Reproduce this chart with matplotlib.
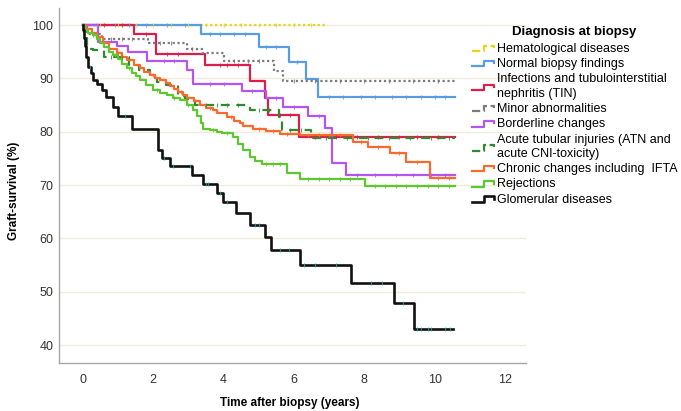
import numpy as np
import matplotlib
matplotlib.use("Agg")
import matplotlib.pyplot as plt
from matplotlib.lines import Line2D
from matplotlib.legend_handler import HandlerBase

plt.rcParams['font.family'] = ['Liberation Sans', 'DejaVu Sans']

# ---------------- data ----------------
groups = [
    "Hematological diseases",
    "Normal biopsy findings",
    "Infections and tubulointerstitial\nnephritis (TIN)",
    "Minor abnormalities",
    "Borderline changes",
    "Acute tubular injuries (ATN and\nacute CNI-toxicity)",
    "Chronic changes including  IFTA",
    "Rejections",
    "Glomerular diseases",
]

hem_t = []
hem_s = []
hem_end = 6.94
hem_c = [0.5, 1.0, 1.5, 2.0, 2.5, 3.0, 3.5, 4.0, 4.5, 5.0, 5.5, 6.0, 6.5]

nor_t = [3.37, 5.01, 5.87, 6.34, 6.69]
nor_s = [98.3, 95.9, 93.0, 89.8, 86.6]
nor_end = 10.58
nor_c = [0.4, 0.9, 1.3, 1.8, 2.4, 2.9, 3.6, 3.9, 4.3, 4.6, 5.2, 5.5, 6.1, 7.0, 7.4, 7.9, 8.3, 8.8, 9.2, 9.6, 10.0, 10.3]

inf_t = [1.45, 2.09, 3.48, 4.75, 5.18, 5.25, 6.15]
inf_s = [98.3, 94.6, 92.5, 89.5, 86.3, 83.1, 79.1]
inf_end = 10.58
inf_c = [0.6, 1.1, 1.8, 2.4, 2.7, 3.9, 4.1, 4.4, 5.6, 5.9, 6.6, 7.2, 7.8, 8.4, 9.0, 9.5, 10.1]

min_t = [0.12, 0.55, 1.85, 2.95, 3.4, 4.0, 5.43, 5.68]
min_s = [98.3, 97.3, 96.6, 95.6, 94.7, 93.3, 91.3, 89.5]
min_end = 10.58
min_c = [0.8, 1.1, 1.4, 2.2, 2.5, 3.1, 4.3, 4.7, 5.0, 6.0, 6.6, 7.3, 8.0, 8.7, 9.4, 10.1]

bor_t = [0.44, 0.96, 1.29, 1.83, 2.95, 3.14, 4.52, 5.22, 5.7, 6.41, 6.88, 7.07, 7.48]
bor_s = [96.9, 96.1, 95.0, 93.3, 91.6, 89.0, 87.6, 86.3, 84.7, 83.0, 80.8, 74.2, 71.9]
bor_end = 10.58
bor_c = [2.3, 2.6, 3.6, 4.0, 4.8, 5.5, 6.0, 6.7, 7.8, 8.3, 8.9, 9.4, 9.9, 10.3]

atn_t = [0.03, 0.12, 0.3, 0.6, 1.3, 1.6, 1.9, 2.1, 2.35, 2.7, 2.9, 3.2, 4.75, 5.58, 5.65, 6.5]
atn_s = [97.5, 95.6, 95.3, 94.1, 92.5, 91.6, 90.0, 89.4, 88.8, 86.7, 86.1, 85.1, 84.1, 82.8, 80.3, 78.8]
atn_end = 10.58
atn_c = [0.8, 1.1, 3.5, 3.8, 4.1, 4.4, 5.0, 5.3, 5.9, 6.2, 6.9, 7.5, 8.1, 8.7, 9.3, 9.9, 10.4]

chr_t = [0.1, 0.25, 0.4, 0.58, 0.75, 0.96, 1.1, 1.24, 1.45, 1.62, 1.75, 1.9, 2.05, 2.19,
         2.35, 2.47, 2.6, 2.71, 2.85, 2.95, 3.15, 3.33, 3.5, 3.7, 3.8, 4.09, 4.3, 4.46,
         4.56, 4.84, 5.22, 5.6, 6.17, 7.69, 8.11, 8.73, 9.2, 9.87]
chr_s = [99.3, 98.6, 97.8, 96.6, 95.6, 94.7, 94.0, 93.4, 92.6, 91.9, 91.2, 90.6, 90.1, 89.7,
         89.1, 88.6, 88.0, 87.5, 86.9, 86.3, 85.7, 85.0, 84.5, 84.1, 83.5, 82.8, 82.1, 81.6,
         81.0, 80.6, 80.2, 79.6, 79.4, 78.1, 77.2, 76.0, 74.4, 71.3]
chr_end = 10.58
chr_c = [1.0, 2.0, 2.8, 3.6, 4.2, 5.0, 5.4, 5.8, 6.4, 6.7, 7.0, 7.3, 7.9, 8.4, 9.0, 9.5, 10.1, 10.4]

rej_t = [0.02, 0.06, 0.15, 0.29, 0.4, 0.48, 0.6, 0.75, 0.86, 1.0, 1.12, 1.24, 1.4, 1.5,
         1.62, 1.8, 2.0, 2.2, 2.38, 2.55, 2.76, 2.95, 3.14, 3.25, 3.35, 3.42, 3.6, 3.8,
         3.95, 4.27, 4.4, 4.56, 4.75, 4.9, 5.08, 5.79, 6.17, 8.02]
rej_s = [99.6, 99.1, 98.6, 98.1, 97.3, 96.6, 95.8, 95.0, 94.4, 93.6, 92.7, 91.9, 91.0, 90.4,
         89.7, 88.8, 87.8, 87.3, 86.9, 86.4, 85.9, 85.0, 84.1, 82.9, 81.7, 80.6, 80.3, 80.0,
         79.7, 79.0, 77.8, 76.6, 75.3, 74.6, 73.9, 72.2, 71.1, 69.8]
rej_end = 10.58
rej_c = [0.3, 0.9, 1.3, 2.1, 2.6, 3.0, 3.7, 4.1, 5.2, 5.4, 5.6, 6.4, 6.7, 7.0, 7.3, 7.6,
         8.3, 8.6, 8.9, 9.2, 9.5, 9.8, 10.1, 10.4]

glo_t = [0.01, 0.03, 0.06, 0.1, 0.15, 0.22, 0.29, 0.4, 0.53, 0.67, 0.86, 1.0, 1.41, 2.14,
         2.24, 2.47, 3.09, 3.42, 3.8, 3.99, 4.35, 4.75, 5.17, 5.36, 6.17, 7.62, 8.85, 9.41]
glo_s = [99.0, 97.6, 96.0, 94.1, 92.2, 91.0, 89.7, 89.0, 87.8, 86.6, 84.7, 83.0, 80.5, 76.6,
         75.0, 73.5, 71.9, 70.3, 68.6, 66.8, 64.7, 62.5, 60.2, 57.8, 55.0, 51.6, 47.9, 43.1]
glo_end = 10.53
glo_c = [0.2, 1.2, 2.3, 2.55, 3.05, 3.5, 3.55, 3.9, 4.1, 4.9, 5.0, 5.6, 5.85, 6.3, 6.6,
         7.2, 8.2, 8.5, 9.1, 9.5, 9.6, 9.8, 9.9, 10.3, 10.45]

times = [hem_t, nor_t, inf_t, min_t, bor_t, atn_t, chr_t, rej_t, glo_t]
survs = [hem_s, nor_s, inf_s, min_s, bor_s, atn_s, chr_s, rej_s, glo_s]
ends = [hem_end, nor_end, inf_end, min_end, bor_end, atn_end, chr_end, rej_end, glo_end]
cens = [hem_c, nor_c, inf_c, min_c, bor_c, atn_c, chr_c, rej_c, glo_c]

colors = ["#e8d51a", "#5a9be6", "#dc1e4c", "#7a7a7a", "#b355ee",
          "#2e8a2e", "#fa6a2c", "#5cc72f", "#111111"]
cens_colors = ["#e8d51a", "#5a9be6", "#dc1e4c", "#7a7a7a", "#b355ee",
               "#2e8a2e", "#fa6a2c", "#5cc72f", "#2aa6a0"]
styles = [(0, (1, 1.2)), "-", "-", (0, (1, 1.2)), "-", (0, (4, 3)), "-", "-", "-"]
widths = [1.6, 1.6, 1.6, 1.6, 1.6, 1.6, 1.6, 1.6, 1.9]

xticks = [0, 2, 4, 6, 8, 10, 12]
yticks = [40, 50, 60, 70, 80, 90, 100]


class StepHandler(HandlerBase):
    def create_artists(self, legend, orig_handle, xdescent, ydescent, width, height,
                       fontsize, trans):
        xs = np.array([0.0, 0.55, 0.55, 1.0, 1.0]) * width - xdescent
        ys = np.array([0.1, 0.1, 0.75, 0.75, 0.45]) * height - ydescent
        ln = Line2D(xs, ys, color=orig_handle.get_color(),
                    linestyle=orig_handle.get_linestyle(),
                    linewidth=orig_handle.get_linewidth())
        ln.set_transform(trans)
        return [ln]


fig = plt.figure(figsize=(6.81, 4.11), dpi=100)
ax = fig.add_axes([59 / 681, 1 - 363.3 / 411, (526 - 59) / 681, (363.3 - 8) / 411])

ax.set_xlim(-0.68, 12.6)
ax.set_ylim(36.6, 103.2)

for yv in yticks:
    ax.axhline(yv, color="#f1ebda", lw=1.0, zorder=0)

handles = []
for i in range(len(groups)):
    t = np.array([0.0] + list(times[i]) + [ends[i]])
    s = np.array([100.0] + list(survs[i]) + [survs[i][-1] if survs[i] else 100.0])
    ln, = ax.step(t, s, where="post", color=colors[i], linestyle=styles[i],
                  linewidth=widths[i], zorder=3 + i * 0.1)
    handles.append(ln)
    c = np.array(cens[i])
    idx = np.searchsorted(t, c, side="right") - 1
    ax.plot(c, s[idx], linestyle="none", marker="|", markersize=3.5,
            markeredgewidth=0.8, color=cens_colors[i], alpha=0.8, zorder=4 + i * 0.1)

for side in ["top", "right"]:
    ax.spines[side].set_visible(False)
for side in ["left", "bottom"]:
    ax.spines[side].set_color("#a6a6a6")
    ax.spines[side].set_linewidth(1.0)

ax.set_xticks(xticks)
ax.set_yticks(yticks)
ax.tick_params(length=0, labelsize=9, colors="#333333")
ax.tick_params(axis="x", pad=8)
ax.tick_params(axis="y", pad=4)

ax.set_xlabel("Time after biopsy (years)", fontsize=8.5, fontweight="bold")
ax.xaxis.set_label_coords(0.495, -0.094)
ax.set_ylabel("Graft-survival (%)", fontsize=8.5, fontweight="bold")
ax.yaxis.set_label_coords(-0.084, 0.485)

leg = fig.legend(handles, groups, loc="upper left",
                 bbox_to_anchor=(472 / 681, 1 - 26 / 411),
                 frameon=False, fontsize=9, title="Diagnosis at biopsy",
                 title_fontproperties={"weight": "bold", "size": 9.5},
                 handler_map={Line2D: StepHandler()},
                 handlelength=1.75, handletextpad=0.22, labelspacing=0.25,
                 borderpad=0, borderaxespad=0)
for txt in leg.get_texts():
    txt.set_linespacing(1.3)
leg._legend_box.sep = leg._legend_box.sep + 1.5

fig.savefig("out.png", dpi=100)
